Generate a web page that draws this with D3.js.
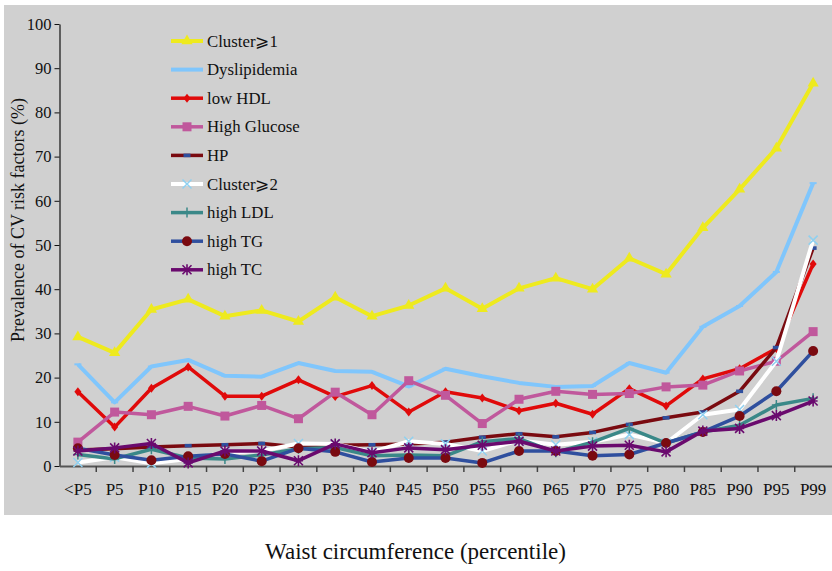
<!DOCTYPE html>
<html>
<head>
<meta charset="utf-8">
<script src="https://cdn.jsdelivr.net/npm/d3@7/dist/d3.min.js"></script>
<style>
  html, body { margin: 0; padding: 0; background: #ffffff; }
  svg { display: block; }
  text { font-family: "Liberation Serif", "Times New Roman", serif; fill: #111; }
</style>
</head>
<body>
<svg id="chart" width="832" height="571"></svg>
<script>
// Waist-circumference percentile groups
const categories = ["<P5","P5","P10","P15","P20","P25","P30","P35","P40","P45","P50",
                    "P55","P60","P65","P70","P75","P80","P85","P90","P95","P99"];

// Prevalence (%) of each cardiovascular risk factor per group
const cluster1     = [29.2, 25.6, 35.4, 37.7, 33.9, 35.2, 32.7, 38.2, 33.9, 36.3, 40.2, 35.6, 40.2, 42.5, 40.0, 47.0, 43.4, 53.9, 62.6, 71.9, 86.6];
const dyslipidemia = [23.0, 14.4, 22.5, 24.0, 20.4, 20.2, 23.3, 21.5, 21.3, 18.0, 22.0, 20.3, 18.8, 17.9, 18.1, 23.3, 21.1, 31.5, 36.2, 43.9, 64.0];
const lowHDL       = [16.8,  8.8, 17.6, 22.4, 15.8, 15.8, 19.5, 15.7, 18.2, 12.2, 16.8, 15.4, 12.5, 14.2, 11.7, 17.5, 13.6, 19.7, 22.0, 26.6, 45.7];
const highGlucose  = [ 5.4, 12.2, 11.6, 13.5, 11.3, 13.7, 10.7, 16.7, 11.6, 19.3, 16.0,  9.6, 15.1, 16.9, 16.2, 16.4, 17.9, 18.3, 21.5, 23.7, 30.4];
const hp           = [ 3.6,  3.9,  4.3,  4.6,  4.8,  5.1,  4.3,  4.7,  4.8,  5.0,  5.4,  6.5,  7.3,  6.6,  7.6,  9.4, 10.9, 12.2, 16.9, 26.8, 49.3];
const cluster2     = [ 0.8,  2.0,  0.6,  1.6,  3.0,  3.4,  5.1,  5.0,  3.2,  5.6,  5.0,  3.4,  5.8,  4.8,  5.5,  7.1,  5.2, 11.6, 12.8, 23.7, 51.1];
const highLDL      = [ 2.6,  1.6,  3.8,  1.8,  1.6,  2.5,  3.9,  4.2,  2.3,  2.5,  2.3,  5.5,  6.2,  3.1,  5.4,  8.5,  5.2,  7.7,  9.2, 13.8, 15.3];
const highTG       = [ 4.0,  2.5,  1.3,  2.2,  2.7,  1.1,  4.0,  3.2,  0.9,  1.8,  1.8,  0.7,  3.4,  3.4,  2.3,  2.6,  5.2,  7.7, 11.3, 16.9, 26.0];
const highTC       = [ 3.4,  4.1,  5.1,  0.7,  3.4,  3.4,  1.2,  5.0,  3.0,  4.1,  3.7,  4.7,  5.6,  3.4,  4.5,  4.7,  3.2,  7.9,  8.5, 11.4, 14.7];

const seriesNames = ["Cluster\u2A7E1","Dyslipidemia","low HDL","High Glucose","HP",
                     "Cluster\u2A7E2","high LDL","high TG","high TC"];
const yTicks = [0,10,20,30,40,50,60,70,80,90,100];

// Styling for each series: line colour, marker kind, marker colour
const styles = [
  { line: "#eeea1e", marker: "triangle", mcolor: "#eeea1e", width: 4 },
  { line: "#80c6fc", marker: "tick",     mcolor: "#80c6fc", width: 4 },
  { line: "#e00a0a", marker: "diamond",  mcolor: "#e00a0a", width: 3.5 },
  { line: "#c0589c", marker: "square",   mcolor: "#c0589c", width: 3.5 },
  { line: "#7a0a10", marker: "dash",     mcolor: "#2f4f9e", width: 3.5 },
  { line: "#ffffff", marker: "x",        mcolor: "#8fd0f0", width: 4 },
  { line: "#3a8888", marker: "plus",     mcolor: "#3a8888", width: 3.5 },
  { line: "#2f4f9e", marker: "circle",   mcolor: "#7a0a10", width: 3.5 },
  { line: "#6a0a6e", marker: "star",     mcolor: "#6a0a6e", width: 3.5 }
];
const values = [cluster1, dyslipidemia, lowHDL, highGlucose, hp, cluster2, highLDL, highTG, highTC];

const svg = d3.select("#chart");

// grey plotting panel
svg.append("rect").attr("x", 4).attr("y", 5).attr("width", 828).attr("height", 510)
   .attr("fill", "#d0d0d0");

const x = d3.scaleBand().domain(categories).range([59.5, 831.5]).paddingInner(0).paddingOuter(0);
const y = d3.scaleLinear().domain([0, 100]).range([466, 24]);
const cx = d => x(d) + x.bandwidth() / 2;

// y axis
const yAxis = svg.append("g").attr("transform", "translate(59.5,0)")
  .call(d3.axisLeft(y).tickValues(yTicks).tickSize(5).tickPadding(3).tickSizeOuter(0));
yAxis.attr("font-family", null);
yAxis.select(".domain").attr("stroke", "#111").attr("stroke-width", 1.2);
yAxis.selectAll(".tick line").attr("stroke", "#111");
yAxis.selectAll(".tick text").style("font-size", "16.5px").attr("fill", "#111");

// x axis: labels at band centres, tick marks at band boundaries
const xAxis = svg.append("g").attr("transform", "translate(0,466)")
  .call(d3.axisBottom(x).tickSize(0).tickPadding(17).tickSizeOuter(0));
xAxis.attr("font-family", null);
xAxis.select(".domain").attr("stroke", "#555").attr("stroke-width", 2);
xAxis.selectAll(".tick text").style("font-size", "17px").attr("fill", "#111");
svg.append("g").selectAll("line").data(categories.slice(1))
  .join("line")
  .attr("x1", d => x(d)).attr("x2", d => x(d))
  .attr("y1", 466).attr("y2", 472)
  .attr("stroke", "#444").attr("stroke-width", 1.5);

// marker drawing
function drawMarker(g, kind, color) {
  switch (kind) {
    case "triangle":
      g.append("path").attr("d", d3.symbol(d3.symbolTriangle, 55)()).attr("fill", color); break;
    case "diamond":
      g.append("path").attr("d", "M0,-4.5L3.5,0L0,4.5L-3.5,0Z").attr("fill", color); break;
    case "square":
      g.append("rect").attr("x", -4.5).attr("y", -4.5).attr("width", 9).attr("height", 9).attr("fill", color); break;
    case "dash":
      g.append("rect").attr("x", -3.5).attr("y", -1.8).attr("width", 7).attr("height", 3.6).attr("fill", color); break;
    case "tick":
      g.append("path").attr("d", "M-3.5,0H3.5").attr("stroke", color).attr("stroke-width", 2); break;
    case "x":
      g.append("path").attr("d", "M-4.5,-4.5L4.5,4.5M-4.5,4.5L4.5,-4.5").attr("stroke", color).attr("stroke-width", 1.5).attr("fill", "none"); break;
    case "plus":
      g.append("path").attr("d", "M0,-5V5M-4.5,0H4.5").attr("stroke", color).attr("stroke-width", 1.5); break;
    case "circle":
      g.append("circle").attr("r", 5).attr("fill", color); break;
    case "star":
      g.append("path").attr("d", "M-4.5,-4.5L4.5,4.5M-4.5,4.5L4.5,-4.5M0,-5.5V5.5M-4.5,0H4.5").attr("stroke", color).attr("stroke-width", 1.6).attr("fill", "none"); break;
  }
}

const line = d3.line().x((d, i) => cx(categories[i])).y(d => y(d));

values.forEach((vals, si) => {
  const st = styles[si];
  const g = svg.append("g");
  g.append("path").datum(vals).attr("d", line)
    .attr("fill", "none").attr("stroke", st.line).attr("stroke-width", st.width)
    .attr("stroke-linejoin", "round");
  vals.forEach((v, i) => {
    const m = g.append("g").attr("transform", `translate(${cx(categories[i])},${y(v)})`);
    drawMarker(m, st.marker, st.mcolor);
  });
});

// legend
const legend = svg.append("g");
seriesNames.forEach((name, i) => {
  const st = styles[i];
  const ly = 41 + i * 28.6;
  legend.append("line").attr("x1", 171).attr("x2", 203).attr("y1", ly).attr("y2", ly)
    .attr("stroke", st.line).attr("stroke-width", st.width);
  const m = legend.append("g").attr("transform", `translate(187,${ly})`);
  drawMarker(m, st.marker, st.mcolor);
  legend.append("text").attr("x", 207).attr("y", ly + 5.5).style("font-size", "16.8px").text(name);
});

// axis titles
svg.append("text").attr("transform", "translate(24,220) rotate(-90)")
  .attr("text-anchor", "middle").style("font-size", "18px")
  .text("Prevalence of CV risk factors (%)");
svg.append("text").attr("x", 415.5).attr("y", 559).attr("text-anchor", "middle")
  .style("font-size", "23px").text("Waist circumference (percentile)");
</script>
</body>
</html>
